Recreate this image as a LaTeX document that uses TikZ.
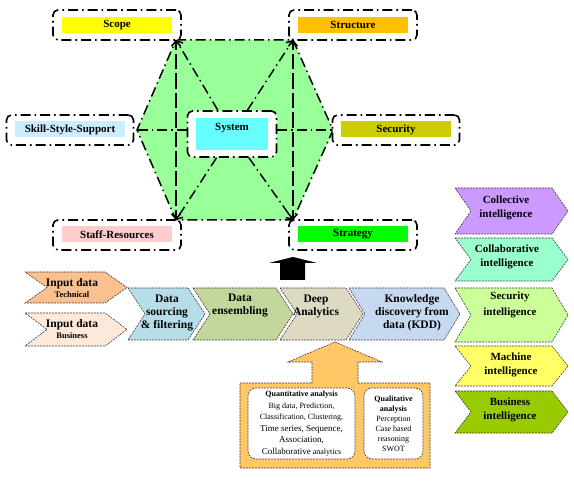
\documentclass[tikz,border=0pt]{standalone}
\usepackage{fontspec}
\setmainfont{Liberation Serif}
\usetikzlibrary{arrows.meta}
\definecolor{hexG}{RGB}{153,255,153}
\definecolor{scopeY}{RGB}{255,255,0}
\definecolor{structO}{RGB}{255,192,0}
\definecolor{skillB}{RGB}{204,236,255}
\definecolor{sysC}{RGB}{102,255,255}
\definecolor{secO}{RGB}{204,204,0}
\definecolor{staffP}{RGB}{255,204,204}
\definecolor{stratG}{RGB}{0,255,0}
\definecolor{techO}{RGB}{250,192,144}
\definecolor{busP}{RGB}{253,233,217}
\definecolor{srcB}{RGB}{183,221,232}
\definecolor{ensG}{RGB}{195,214,155}
\definecolor{deepT}{RGB}{221,217,195}
\definecolor{kddB}{RGB}{198,217,241}
\definecolor{colP}{RGB}{204,153,255}
\definecolor{collA}{RGB}{153,255,204}
\definecolor{secG}{RGB}{204,255,153}
\definecolor{macY}{RGB}{255,255,102}
\definecolor{bizG}{RGB}{153,204,0}
\definecolor{arrO}{RGB}{255,200,100}

\begin{document}
\begin{tikzpicture}[x=1pt,y=-1pt,
  every node/.style={font=\bfseries\fontsize{11}{12}\selectfont},
  frame/.style={draw,line width=1.6pt,dash pattern=on 10pt off 4pt on 1.6pt off 4pt,rounded corners=5pt,fill=white,minimum width=128pt,minimum height=30pt},
  tag/.style={inner sep=0pt,minimum width=110pt,minimum height=16pt},
  ddline/.style={line width=1.5pt,dash pattern=on 10pt off 4pt on 1.5pt off 4pt},
  tip/.style={-{Straight Barb[length=5pt,width=9pt]}},
  chev/.style={draw=black!75,line width=0.6pt,dash pattern=on 2pt off 1pt},
  ctext/.style={align=center,font=\bfseries\fontsize{11.5}{13}\selectfont},
  itext/.style={align=center,font=\bfseries\fontsize{11}{14}\selectfont},
  ibox/.style={chev,fill=white,rounded corners=8pt,align=center,inner sep=1pt}]
  \useasboundingbox (0,0) rectangle (574,484);
  % hexagon
  \coordinate (tl) at (176,40);
  \coordinate (tr) at (293,40);
  \coordinate (rr) at (333,130);
  \coordinate (br) at (293,220);
  \coordinate (bl) at (176,220);
  \coordinate (ll) at (137,130);
  \filldraw[ddline,fill=hexG] (tl) -- (tr) -- (rr) -- (br) -- (bl) -- (ll) -- cycle;
  % outer frames
  \node[frame] (scopef) at (117,25) {};
  \node[frame] (structf) at (353,25) {};
  \node[frame,minimum width=127pt] (skillf) at (70,130) {};
  \node[frame,minimum width=127pt] (secf) at (396,130) {};
  \node[frame] (stafff) at (117,235) {};
  \node[frame] (stratf) at (353,235) {};
  \node[frame,minimum width=89pt,minimum height=46pt] (sysf) at (232,134) {};
  % connectors
  \draw[ddline,tip] (sysf) -- (tl);
  \draw[ddline,tip] (sysf) -- (tr);
  \draw[ddline,tip] (sysf) -- (bl);
  \draw[ddline,tip] (sysf) -- (br);
  \draw[ddline] (sysf.west |- ll) -- (ll);
  \draw[ddline] (sysf.east |- rr) -- (rr);
  \draw[ddline,tip] (bl) -- (tl);
  \draw[ddline,tip] (tl) -- (bl);
  \draw[ddline,tip] (br) -- (tr);
  \draw[ddline,tip] (tr) -- (br);
  % coloured tags
  \node[tag,fill=scopeY] (scope) at (117,25) {Scope};
  \node[tag,fill=structO] (struct) at (353,25) {Structure};
  \node[tag,fill=skillB] (skill) at (70,129.5) {Skill-Style-Support};
  \node[tag,fill=secO] (sec) at (396,129.5) {Security};
  \node[tag,fill=staffP] (staff) at (117,234.5) {Staff-Resources};
  \node[tag,fill=stratG] (strat) at (353,234.5) {Strategy};
  \node[tag,fill=sysC,minimum width=72pt,minimum height=32pt,text height=7pt,text depth=14pt] (sys) at (232,134) {System};
  % up arrows
  \fill (280,280) -- (280,263) -- (269,263) -- (293,257) -- (317,263) -- (305,263) -- (305,280) -- cycle;
  \filldraw[chev,fill=arrO] (240,383) -- (312,383) -- (312,362) -- (288,362) -- (335,342) -- (382,362)
    -- (358,362) -- (358,383) -- (430,383) -- (430,468) -- (240,468) -- cycle;
  % chevrons
  \foreach \xa/\xb/\ya/\yb/\d/\c in {25/127/272/303/22/techO, 25/127/313/346/22/busP,
      128/205/288/340/17/srcB, 193/293/288/340/17/ensG, 280/363/288/340/17/deepT,
      349/460/288/340/16/kddB, 455/568/188/234/16/colP, 455/568/238/281/16/collA,
      455/568/288/342/16/secG, 455/568/346/386/16/macY, 455/568/391/433/16/bizG}
    \filldraw[chev,fill=\c] (\xa,\ya) -- (\xb-\d,\ya) -- (\xb,{(\ya+\yb)/2}) -- (\xb-\d,\yb)
      -- (\xa,\yb) -- (\xa+\d,{(\ya+\yb)/2}) -- cycle;
  \node[ctext,font=\bfseries\fontsize{11.5}{11}\selectfont] (tech) at (72,288)
    {Input data\\{\fontsize{8.5}{10}\selectfont Technical}};
  \node[ctext,font=\bfseries\fontsize{11.5}{11}\selectfont] (bus) at (72,329)
    {Input data\\{\fontsize{8.5}{10}\selectfont Business}};
  \node[ctext] (src) at (167,313) {Data\\sourcing\\\& filtering};
  \node[ctext] (ens) at (240,306) {Data\\ensembling};
  \node[ctext] (deep) at (316,306) {Deep\\Analytics};
  \node[ctext] (kdd) at (412,313) {Knowledge\\discovery from\\data (KDD)};
  \node[itext] (colI) at (506,208) {Collective\\intelligence};
  \node[itext] (collI) at (507,257) {Collaborative\\intelligence};
  \node[itext,font=\bfseries\fontsize{11}{16}\selectfont] (secI) at (510,305) {Security\\intelligence};
  \node[itext] (macI) at (511,365) {Machine\\intelligence};
  \node[itext] (bizI) at (510,410) {Business\\intelligence};
  % analysis boxes
  \node[ibox,minimum width=107pt,minimum height=71pt,font=\fontsize{8}{11.5}\selectfont] (quant) at (301.5,423.5)
    {\textbf{Quantitative analysis}\\Big data, Prediction,\\Classification, Clustering,\\{\fontsize{9}{11.5}\selectfont Time series, Sequence,}\\{\fontsize{9}{11.5}\selectfont Association,}\\{\fontsize{9}{11.5}\selectfont Collaborative} analytics};
  \node[ibox,minimum width=59pt,minimum height=71pt,font=\fontsize{8}{10}\selectfont] (qual) at (393.5,423.5)
    {\textbf{Qualitative}\\\textbf{analysis}\\Perception\\Case based\\reasoning\\SWOT};
\end{tikzpicture}
\end{document}
